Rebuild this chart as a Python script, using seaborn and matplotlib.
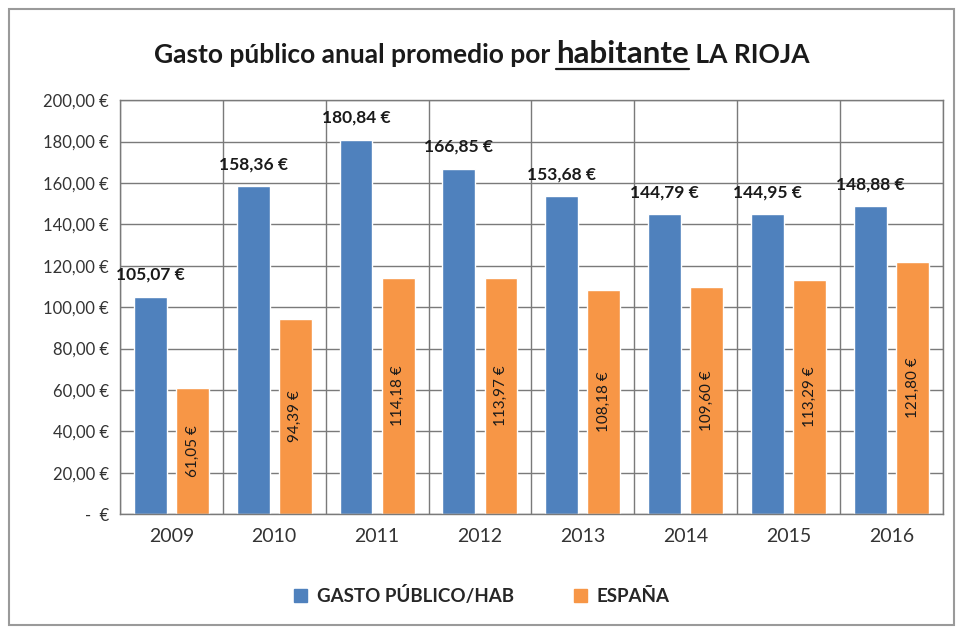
import matplotlib
matplotlib.use("Agg")
import matplotlib.pyplot as plt
import seaborn as sns
import pandas as pd
import numpy as np
from matplotlib.patches import Rectangle

years = ["2009", "2010", "2011", "2012", "2013", "2014", "2015", "2016"]
gasto_hab = [105.07, 158.36, 180.84, 166.85, 153.68, 144.79, 144.95, 148.88]
espana = [61.05, 94.39, 114.18, 113.97, 108.18, 109.60, 113.29, 121.80]
series_names = ["GASTO PÚBLICO/HAB", "ESPAÑA"]
y_ticks = [0, 20, 40, 60, 80, 100, 120, 140, 160, 180, 200]
y_tick_labels = ["-  €", "20,00 €", "40,00 €", "60,00 €", "80,00 €", "100,00 €",
                 "120,00 €", "140,00 €", "160,00 €", "180,00 €", "200,00 €"]

df = pd.DataFrame({
    "year": years * 2,
    "value": gasto_hab + espana,
    "serie": [series_names[0]] * len(years) + [series_names[1]] * len(years),
})

sns.set_theme(style="white")
plt.rcParams["font.family"] = ["Lato", "DejaVu Sans"]

fig = plt.figure(figsize=(9.63, 6.3), dpi=100)
ax = fig.add_axes([0.1246, 0.184, 0.8544, 0.657])

palette = {series_names[0]: "#4F81BD", series_names[1]: "#F79646"}
sns.barplot(data=df, x="year", y="value", hue="serie", palette=palette,
            width=0.82, gap=0.22, ax=ax, saturation=1, legend=True)

ax.set_ylim(0, 200)
ax.set_xlim(-0.5, len(years) - 0.5)
ax.set_yticks(y_ticks)
ax.set_yticklabels(y_tick_labels, fontsize=12, color="#333333")
ax.tick_params(axis="x", labelsize=14, colors="#333333", length=0, pad=10)
ax.tick_params(axis="y", length=0, pad=8)
ax.set_xlabel("")
ax.set_ylabel("")

# grid
for yv in y_ticks:
    ax.axhline(yv, color="#7a7a7a", lw=1.0, zorder=0)
for xb in np.arange(-0.5, len(years), 1.0):
    ax.axvline(xb, color="#7a7a7a", lw=1.0, zorder=0)
for sp in ax.spines.values():
    sp.set_color("#7a7a7a")
    sp.set_linewidth(1.0)

def fmt(v):
    return f"{v:.2f}".replace(".", ",") + " €"

c0, c1 = ax.containers[0], ax.containers[1]
ax.bar_label(c0, labels=[fmt(v) for v in gasto_hab], padding=10,
             fontsize=12.5, fontweight="bold", color="#1a1a1a")
ax.bar_label(c1, labels=[fmt(v) for v in espana], label_type="center",
             rotation=90, fontsize=11, color="#1a1a1a")

# legend
leg = ax.get_legend()
if leg:
    leg.remove()
handles = [Rectangle((0, 0), 1, 1, color=palette[s]) for s in series_names]
fig.legend(handles, series_names, loc="center", bbox_to_anchor=(0.5, 0.054),
           ncol=2, frameon=False, handlelength=0.7, handleheight=0.7,
           columnspacing=3.2, handletextpad=0.5,
           prop={"weight": "bold", "size": 13.5})

# title with mixed styles
fig.canvas.draw()
renderer = fig.canvas.get_renderer()
parts = [("Gasto público anual promedio por ", 19, False),
         ("habitante", 22.5, True),
         (" LA RIOJA", 19, False)]
texts = []
x = 0.0
for s, size, und in parts:
    t = fig.text(x, 0.9, s, fontsize=size, fontweight="bold", color="#1a1a1a",
                 ha="left", va="baseline")
    bb = t.get_window_extent(renderer)
    texts.append((t, bb, und))
    x += bb.width / fig.bbox.width
total = x
x0 = 0.5 - total / 2
cur = x0
for t, bb, und in texts:
    t.set_x(cur)
    w = bb.width / fig.bbox.width
    if und:
        fig.add_artist(plt.Line2D([cur, cur + w], [0.89, 0.89],
                                  transform=fig.transFigure, color="#1a1a1a", lw=1.6))
    cur += w

# outer frame
fig.add_artist(Rectangle((0.009, 0.008), 0.982, 0.978, transform=fig.transFigure,
                         fill=False, edgecolor="#9a9a9a", lw=1.5))

fig.savefig("out.png", dpi=100)
